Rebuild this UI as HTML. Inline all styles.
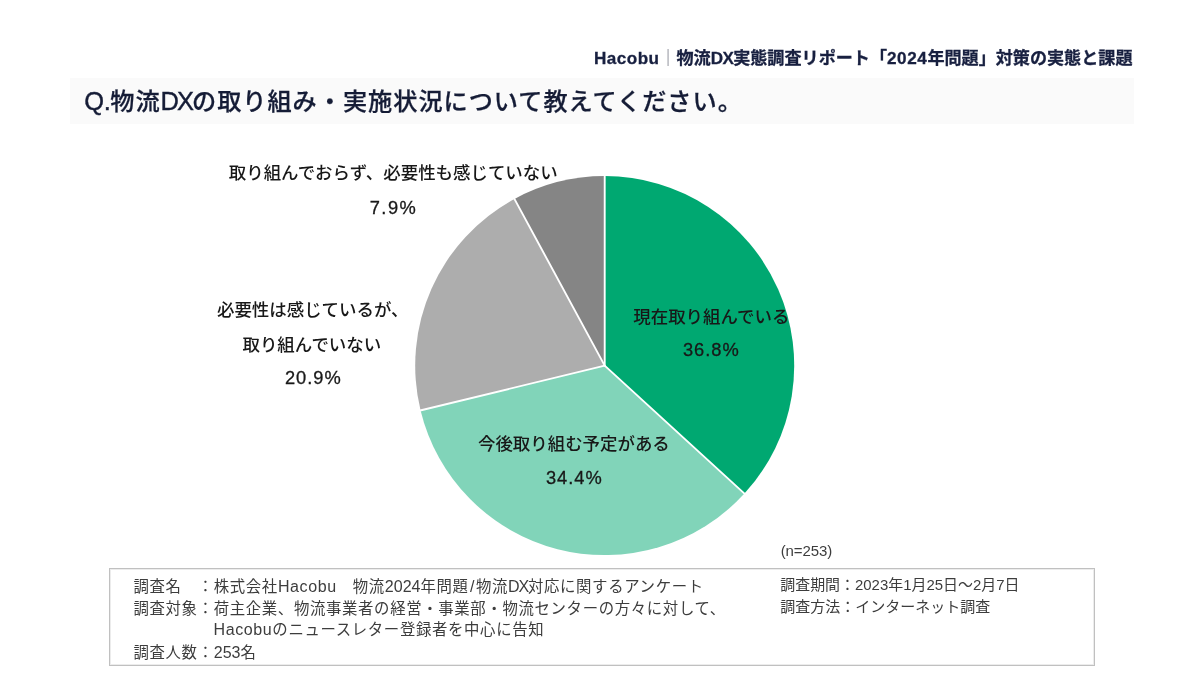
<!DOCTYPE html>
<html lang="ja">
<head>
<meta charset="utf-8">
<title>物流DX実態調査リポート</title>
<style>
html,body{margin:0;padding:0;background:#fff;}
body{width:1200px;height:675px;position:relative;overflow:hidden;
  font-family:"Liberation Sans","Noto Sans CJK JP",sans-serif;color:#222;}
.abs{position:absolute;white-space:nowrap;line-height:1;}
#hdr{right:67.5px;top:49.7px;font-size:17.1px;font-weight:700;color:#182040;-webkit-text-stroke:0.3px #182040;}
#hdr .sep{font-weight:300;color:#5f6170;-webkit-text-stroke:0;}
#bar{position:absolute;left:69.5px;top:77.5px;width:1064.5px;height:46.5px;background:#fafafa;}
#ttl{left:84.3px;top:89.1px;font-size:24.2px;letter-spacing:.97px;-webkit-text-stroke:0.25px #151c36;font-weight:500;color:#151c36;}
#ttl .la{-webkit-text-stroke:0.4px #151c36;font-size:25.5px;}
.lbl{font-size:17.45px;color:#181818;font-weight:500;}
.pct{font-size:18.3px;color:#181818;letter-spacing:.95px;-webkit-text-stroke:0.3px #181818;}
#box{position:absolute;left:109px;top:568px;width:986px;height:98px;border:1px solid #c0c0c0;box-shadow:inset 0 0 0 1px #ececec;box-sizing:border-box;}
.nt{font-size:16.05px;color:#3d3d3d;}
.lc{font-size:15.4px;letter-spacing:.65px;}
.lc span{font-size:16.05px;letter-spacing:0;}
</style>
</head>
<body>
<div id="hdr" class="abs"><span style="letter-spacing:.45px">Hacobu</span><span class="sep">｜</span>物流<span style="letter-spacing:-.65px">DX</span>実態調査リポート「<span style="letter-spacing:.58px">2024</span>年問題」対策の実態と課題</div>
<div id="bar"></div>
<div id="ttl" class="abs"><span class="la" style="letter-spacing:-.5px">Q.</span>物流<span class="la" style="letter-spacing:-2px">DX</span>の取り組み・実施状況について教えてください。</div>

<svg id="pie" class="abs" style="left:0;top:0" width="1200" height="675" viewBox="0 0 1200 675">
  <g>
    <path d="M604.7,365.6 L604.70,176.10 A189.5,189.5 0 0 1 744.46,493.58 Z" fill="#00a871"/>
    <path d="M604.7,365.6 L744.46,493.58 A189.5,189.5 0 0 1 420.58,410.42 Z" fill="#81d4b9"/>
    <path d="M604.7,365.6 L420.58,410.42 A189.5,189.5 0 0 1 514.45,198.97 Z" fill="#adadad"/>
    <path d="M604.7,365.6 L514.45,198.97 A189.5,189.5 0 0 1 604.70,176.10 Z" fill="#858585"/>
  </g>
  <g stroke="#fff" stroke-width="1.9" stroke-linecap="round">
    <line x1="604.7" y1="365.6" x2="604.70" y2="174.60"/>
    <line x1="604.7" y1="365.6" x2="745.57" y2="494.59"/>
    <line x1="604.7" y1="365.6" x2="419.12" y2="410.77"/>
    <line x1="604.7" y1="365.6" x2="513.74" y2="197.65"/>
  </g>
</svg>

<div class="abs lbl" id="l1" style="left:228.8px;top:164.5px;">取り組んでおらず、必要性も感じていない</div>
<div class="abs pct" id="p1" style="left:369.7px;top:199px;letter-spacing:1.5px">7.9%</div>
<div class="abs lbl" id="l2a" style="left:217px;top:302px;">必要性は感じているが、</div>
<div class="abs lbl" id="l2b" style="left:242.5px;top:337px;">取り組んでいない</div>
<div class="abs pct" id="p2" style="left:285px;top:369px;">20.9%</div>
<div class="abs lbl" id="l3" style="left:633.3px;top:308.8px;">現在取り組んでいる</div>
<div class="abs pct" id="p3" style="left:683px;top:341px;">36.8%</div>
<div class="abs lbl" id="l4" style="left:478px;top:435.5px;">今後取り組む予定がある</div>
<div class="abs pct" id="p4" style="left:546px;top:469px;">34.4%</div>

<div class="abs nt" id="n" style="left:780.7px;top:542.5px;font-size:15px;letter-spacing:-.1px">(n=253)</div>
<div id="box"></div>
<div class="abs nt lc" id="b1" style="left:133.5px;top:577.7px;">調査名　：株式会社<span style="letter-spacing:.6px">Hacobu</span>　物流<span>2024</span>年問題<span style="margin:0 1.4px 0 1.4px">/</span>物流<span style="letter-spacing:-1.17px">DX</span>対応に関するアンケート</div>
<div class="abs nt lc" id="b2" style="left:133.5px;top:600.5px;">調査対象：荷主企業、物流事業者の経営・事業部・物流センターの方々に対して、</div>
<div class="abs nt lc" id="b3" style="left:213.5px;top:620.7px;"><span style="letter-spacing:.6px">Hacobu</span>のニュースレター登録者を中心に告知</div>
<div class="abs nt lc" id="b4" style="left:133.5px;top:643.9px;">調査人数：<span>253</span>名</div>
<div class="abs nt" id="b5" style="left:780.3px;top:577.8px;font-size:14.95px">調査期間：2023年1月25日～2月7日</div>
<div class="abs nt" id="b6" style="left:780.3px;top:598.6px;font-size:15px">調査方法：インターネット調査</div>
</body>
</html>
